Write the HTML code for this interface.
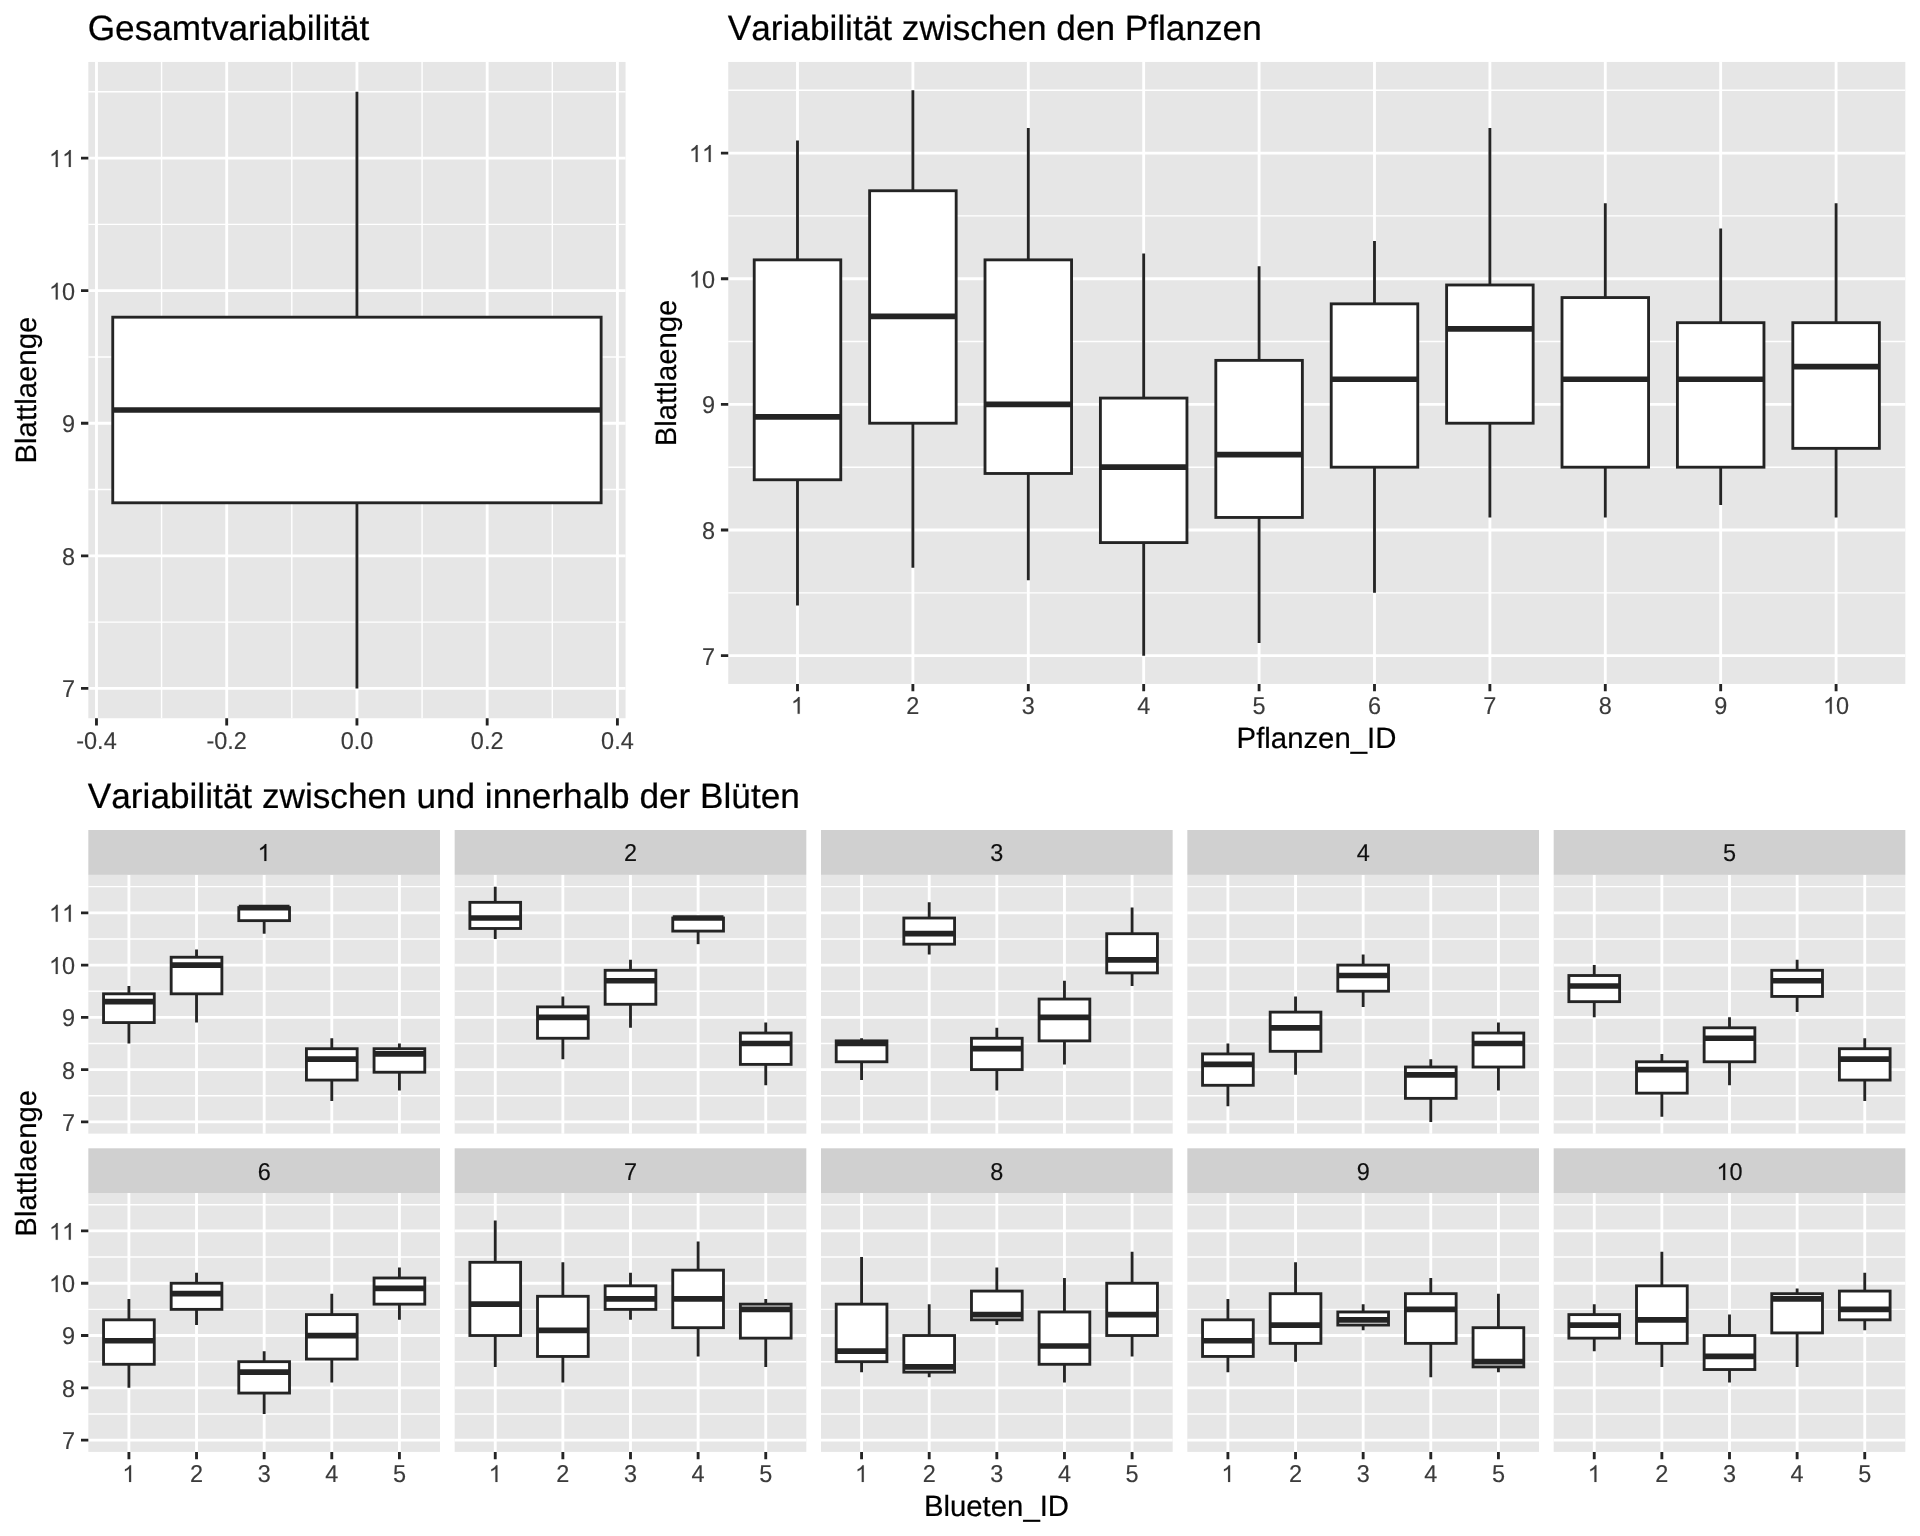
<!DOCTYPE html>
<html lang="de"><head><meta charset="utf-8"><title>Variabilität der Blattlaenge</title>
<style>
html,body{margin:0;padding:0;background:#fff}
svg{display:block;will-change:transform;transform:translateZ(0)}
text{font-family:"Liberation Sans",sans-serif;font-kerning:none;font-variant-ligatures:none;text-rendering:geometricPrecision}
.t{font-size:35.2px;fill:#000;stroke:#000;stroke-width:.22px}
.l{font-size:29.33px;fill:#000;stroke:#000;stroke-width:.2px}
.a{font-size:23.47px;fill:#3B3B3B;stroke:#3B3B3B;stroke-width:.15px}
.s{font-size:23.47px;fill:#101010;stroke:#101010;stroke-width:.15px}
.ap{fill:#3B3B3B;stroke:#3B3B3B;stroke-width:12}
.sp{fill:#101010;stroke:#101010;stroke-width:12}
</style></head><body>
<svg width="1920" height="1536" viewBox="0 0 1920 1536">
<rect width="1920" height="1536" fill="#fff"/>
<rect x="88.33" y="61.95" width="537.22" height="656.3" fill="#E6E6E6"/>
<path d="M88.33 622.13H625.55M88.33 489.54H625.55M88.33 356.95H625.55M88.33 224.37H625.55M88.33 91.78H625.55M161.59 61.95V718.25M291.82 61.95V718.25M422.06 61.95V718.25M552.29 61.95V718.25" stroke="#fff" stroke-width="1.42" fill="none"/>
<path d="M88.33 688.42H625.55M88.33 555.83H625.55M88.33 423.25H625.55M88.33 290.66H625.55M88.33 158.07H625.55M96.47 61.95V718.25M226.7 61.95V718.25M356.94 61.95V718.25M487.18 61.95V718.25M617.41 61.95V718.25" stroke="#fff" stroke-width="2.85" fill="none"/>
<path d="M356.94 91.78V317.18M356.94 502.8V688.42" stroke="#242424" stroke-width="2.85" fill="none"/>
<rect x="112.75" y="317.18" width="488.38" height="185.62" fill="#fff" stroke="#242424" stroke-width="2.85" stroke-linejoin="miter"/>
<path d="M112.75 409.99H601.13" stroke="#242424" stroke-width="5.7" fill="none"/>
<path d="M81 688.42H88.33M81 555.83H88.33M81 423.25H88.33M81 290.66H88.33M81 158.07H88.33" stroke="#242424" stroke-width="2.85" fill="none"/>
<text transform="translate(62.08 697.32) scale(1 1.0405)" class="a">7</text>
<text transform="translate(62.08 564.73) scale(1 1.0405)" class="a">8</text>
<text transform="translate(62.08 432.15) scale(1 1.0405)" class="a">9</text>
<path transform="translate(49.02 299.56) scale(0.01146 -0.01146)" d="M763 0H583V1147Q518 1085 412.5 1023T223 930V1104Q374 1175 487 1276T647 1472H763Z" class="ap"/><text transform="translate(62.08 299.56) scale(1 1.0405)" class="a">0</text>
<path transform="translate(49.02 166.97) scale(0.01146 -0.01146)" d="M763 0H583V1147Q518 1085 412.5 1023T223 930V1104Q374 1175 487 1276T647 1472H763Z" class="ap"/><path transform="translate(62.08 166.97) scale(0.01146 -0.01146)" d="M763 0H583V1147Q518 1085 412.5 1023T223 930V1104Q374 1175 487 1276T647 1472H763Z" class="ap"/>
<path d="M96.47 718.25V725.58M226.7 718.25V725.58M356.94 718.25V725.58M487.18 718.25V725.58M617.41 718.25V725.58" stroke="#242424" stroke-width="2.85" fill="none"/>
<text transform="translate(76.25 748.75) scale(1 1.0405)" class="a">-0.4</text>
<text transform="translate(206.48 748.75) scale(1 1.0405)" class="a">-0.2</text>
<text transform="translate(340.63 748.75) scale(1 1.0405)" class="a">0.0</text>
<text transform="translate(470.86 748.75) scale(1 1.0405)" class="a">0.2</text>
<text transform="translate(601.1 748.75) scale(1 1.0405)" class="a">0.4</text>
<text transform="translate(35.75 390.1) rotate(-90)" text-anchor="middle" class="l">Blattlaenge</text>
<text x="87.73" y="40" class="t">Gesamtvariabilität</text>
<rect x="728.25" y="61.95" width="1177.08" height="622" fill="#E6E6E6"/>
<path d="M728.25 592.85H1905.33M728.25 467.19H1905.33M728.25 341.54H1905.33M728.25 215.88H1905.33M728.25 90.22H1905.33" stroke="#fff" stroke-width="1.42" fill="none"/>
<path d="M728.25 655.68H1905.33M728.25 530.02H1905.33M728.25 404.36H1905.33M728.25 278.71H1905.33M728.25 153.05H1905.33M797.49 61.95V683.95M912.89 61.95V683.95M1028.29 61.95V683.95M1143.69 61.95V683.95M1259.09 61.95V683.95M1374.49 61.95V683.95M1489.89 61.95V683.95M1605.29 61.95V683.95M1720.69 61.95V683.95M1836.09 61.95V683.95" stroke="#fff" stroke-width="2.85" fill="none"/>
<path d="M797.49 140.49V259.86M797.49 479.76V605.41" stroke="#242424" stroke-width="2.85" fill="none"/>
<rect x="754.22" y="259.86" width="86.55" height="219.9" fill="#fff" stroke="#242424" stroke-width="2.85" stroke-linejoin="miter"/>
<path d="M754.22 416.93H840.76" stroke="#242424" stroke-width="5.7" fill="none"/>
<path d="M912.89 90.22V190.75M912.89 423.21V567.72" stroke="#242424" stroke-width="2.85" fill="none"/>
<rect x="869.62" y="190.75" width="86.55" height="232.46" fill="#fff" stroke="#242424" stroke-width="2.85" stroke-linejoin="miter"/>
<path d="M869.62 316.4H956.16" stroke="#242424" stroke-width="5.7" fill="none"/>
<path d="M1028.29 127.92V259.86M1028.29 473.48V580.28" stroke="#242424" stroke-width="2.85" fill="none"/>
<rect x="985.01" y="259.86" width="86.55" height="213.62" fill="#fff" stroke="#242424" stroke-width="2.85" stroke-linejoin="miter"/>
<path d="M985.01 404.36H1071.57" stroke="#242424" stroke-width="5.7" fill="none"/>
<path d="M1143.69 253.58V398.08M1143.69 542.59V655.68" stroke="#242424" stroke-width="2.85" fill="none"/>
<rect x="1100.41" y="398.08" width="86.55" height="144.51" fill="#fff" stroke="#242424" stroke-width="2.85" stroke-linejoin="miter"/>
<path d="M1100.41 467.19H1186.97" stroke="#242424" stroke-width="5.7" fill="none"/>
<path d="M1259.09 266.14V360.38M1259.09 517.46V643.11" stroke="#242424" stroke-width="2.85" fill="none"/>
<rect x="1215.82" y="360.38" width="86.55" height="157.07" fill="#fff" stroke="#242424" stroke-width="2.85" stroke-linejoin="miter"/>
<path d="M1215.82 454.63H1302.37" stroke="#242424" stroke-width="5.7" fill="none"/>
<path d="M1374.49 241.01V303.84M1374.49 467.19V592.85" stroke="#242424" stroke-width="2.85" fill="none"/>
<rect x="1331.22" y="303.84" width="86.55" height="163.35" fill="#fff" stroke="#242424" stroke-width="2.85" stroke-linejoin="miter"/>
<path d="M1331.22 379.23H1417.76" stroke="#242424" stroke-width="5.7" fill="none"/>
<path d="M1489.89 127.92V284.99M1489.89 423.21V517.46" stroke="#242424" stroke-width="2.85" fill="none"/>
<rect x="1446.61" y="284.99" width="86.55" height="138.22" fill="#fff" stroke="#242424" stroke-width="2.85" stroke-linejoin="miter"/>
<path d="M1446.61 328.97H1533.16" stroke="#242424" stroke-width="5.7" fill="none"/>
<path d="M1605.29 203.31V297.56M1605.29 467.19V517.46" stroke="#242424" stroke-width="2.85" fill="none"/>
<rect x="1562.01" y="297.56" width="86.55" height="169.64" fill="#fff" stroke="#242424" stroke-width="2.85" stroke-linejoin="miter"/>
<path d="M1562.01 379.23H1648.57" stroke="#242424" stroke-width="5.7" fill="none"/>
<path d="M1720.69 228.44V322.69M1720.69 467.19V504.89" stroke="#242424" stroke-width="2.85" fill="none"/>
<rect x="1677.41" y="322.69" width="86.55" height="144.51" fill="#fff" stroke="#242424" stroke-width="2.85" stroke-linejoin="miter"/>
<path d="M1677.41 379.23H1763.97" stroke="#242424" stroke-width="5.7" fill="none"/>
<path d="M1836.09 203.31V322.69M1836.09 448.34V517.46" stroke="#242424" stroke-width="2.85" fill="none"/>
<rect x="1792.82" y="322.69" width="86.55" height="125.66" fill="#fff" stroke="#242424" stroke-width="2.85" stroke-linejoin="miter"/>
<path d="M1792.82 366.67H1879.36" stroke="#242424" stroke-width="5.7" fill="none"/>
<path d="M720.92 655.68H728.25M720.92 530.02H728.25M720.92 404.36H728.25M720.92 278.71H728.25M720.92 153.05H728.25" stroke="#242424" stroke-width="2.85" fill="none"/>
<text transform="translate(702 664.58) scale(1 1.0405)" class="a">7</text>
<text transform="translate(702 538.92) scale(1 1.0405)" class="a">8</text>
<text transform="translate(702 413.26) scale(1 1.0405)" class="a">9</text>
<path transform="translate(688.94 287.61) scale(0.01146 -0.01146)" d="M763 0H583V1147Q518 1085 412.5 1023T223 930V1104Q374 1175 487 1276T647 1472H763Z" class="ap"/><text transform="translate(702 287.61) scale(1 1.0405)" class="a">0</text>
<path transform="translate(688.94 161.95) scale(0.01146 -0.01146)" d="M763 0H583V1147Q518 1085 412.5 1023T223 930V1104Q374 1175 487 1276T647 1472H763Z" class="ap"/><path transform="translate(702 161.95) scale(0.01146 -0.01146)" d="M763 0H583V1147Q518 1085 412.5 1023T223 930V1104Q374 1175 487 1276T647 1472H763Z" class="ap"/>
<path d="M797.49 683.95V691.28M912.89 683.95V691.28M1028.29 683.95V691.28M1143.69 683.95V691.28M1259.09 683.95V691.28M1374.49 683.95V691.28M1489.89 683.95V691.28M1605.29 683.95V691.28M1720.69 683.95V691.28M1836.09 683.95V691.28" stroke="#242424" stroke-width="2.85" fill="none"/>
<path transform="translate(790.96 713.85) scale(0.01146 -0.01146)" d="M763 0H583V1147Q518 1085 412.5 1023T223 930V1104Q374 1175 487 1276T647 1472H763Z" class="ap"/>
<text transform="translate(906.36 713.85) scale(1 1.0405)" class="a">2</text>
<text transform="translate(1021.76 713.85) scale(1 1.0405)" class="a">3</text>
<text transform="translate(1137.16 713.85) scale(1 1.0405)" class="a">4</text>
<text transform="translate(1252.56 713.85) scale(1 1.0405)" class="a">5</text>
<text transform="translate(1367.96 713.85) scale(1 1.0405)" class="a">6</text>
<text transform="translate(1483.36 713.85) scale(1 1.0405)" class="a">7</text>
<text transform="translate(1598.76 713.85) scale(1 1.0405)" class="a">8</text>
<text transform="translate(1714.16 713.85) scale(1 1.0405)" class="a">9</text>
<path transform="translate(1823.04 713.85) scale(0.01146 -0.01146)" d="M763 0H583V1147Q518 1085 412.5 1023T223 930V1104Q374 1175 487 1276T647 1472H763Z" class="ap"/><text transform="translate(1836.09 713.85) scale(1 1.0405)" class="a">0</text>
<text transform="translate(675.75 372.95) rotate(-90)" text-anchor="middle" class="l">Blattlaenge</text>
<text x="1316.49" y="747.8" text-anchor="middle" class="l">Pflanzen_ID</text>
<text x="727.75" y="40" class="t">Variabilität zwischen den Pflanzen</text>
<rect x="88.33" y="830" width="351.66" height="44.9" fill="#D0D0D0"/>
<path transform="translate(257.64 860.9) scale(0.01146 -0.01146)" d="M763 0H583V1147Q518 1085 412.5 1023T223 930V1104Q374 1175 487 1276T647 1472H763Z" class="sp"/>
<rect x="88.33" y="874.9" width="351.66" height="258.75" fill="#E6E6E6"/>
<path d="M88.33 1095.75H439.99M88.33 1043.48H439.99M88.33 991.21H439.99M88.33 938.93H439.99M88.33 886.66H439.99" stroke="#fff" stroke-width="1.42" fill="none"/>
<path d="M88.33 1121.89H439.99M88.33 1069.62H439.99M88.33 1017.34H439.99M88.33 965.07H439.99M88.33 912.8H439.99M128.91 874.9V1133.65M196.53 874.9V1133.65M264.16 874.9V1133.65M331.79 874.9V1133.65M399.42 874.9V1133.65" stroke="#fff" stroke-width="2.85" fill="none"/>
<path d="M128.91 985.98V993.82M128.91 1022.57V1043.48" stroke="#242424" stroke-width="2.85" fill="none"/>
<rect x="103.55" y="993.82" width="50.72" height="28.75" fill="#fff" stroke="#242424" stroke-width="2.85" stroke-linejoin="miter"/>
<path d="M103.55 1001.66H154.27" stroke="#242424" stroke-width="5.7" fill="none"/>
<path d="M196.53 949.39V957.23M196.53 993.82V1022.57" stroke="#242424" stroke-width="2.85" fill="none"/>
<rect x="171.17" y="957.23" width="50.72" height="36.59" fill="#fff" stroke="#242424" stroke-width="2.85" stroke-linejoin="miter"/>
<path d="M171.17 965.07H221.89" stroke="#242424" stroke-width="5.7" fill="none"/>
<path d="M264.16 907.57V907.57M264.16 920.64V933.71" stroke="#242424" stroke-width="2.85" fill="none"/>
<rect x="238.8" y="907.57" width="50.72" height="13.07" fill="#fff" stroke="#242424" stroke-width="2.85" stroke-linejoin="miter"/>
<path d="M238.8 907.57H289.52" stroke="#242424" stroke-width="5.7" fill="none"/>
<path d="M331.79 1038.25V1048.71M331.79 1080.07V1100.98" stroke="#242424" stroke-width="2.85" fill="none"/>
<rect x="306.43" y="1048.71" width="50.72" height="31.36" fill="#fff" stroke="#242424" stroke-width="2.85" stroke-linejoin="miter"/>
<path d="M306.43 1059.16H357.15" stroke="#242424" stroke-width="5.7" fill="none"/>
<path d="M399.42 1043.48V1048.71M399.42 1072.23V1090.53" stroke="#242424" stroke-width="2.85" fill="none"/>
<rect x="374.06" y="1048.71" width="50.72" height="23.52" fill="#fff" stroke="#242424" stroke-width="2.85" stroke-linejoin="miter"/>
<path d="M374.06 1053.93H424.78" stroke="#242424" stroke-width="5.7" fill="none"/>
<path d="M81 1121.89H88.33M81 1069.62H88.33M81 1017.34H88.33M81 965.07H88.33M81 912.8H88.33" stroke="#242424" stroke-width="2.85" fill="none"/>
<text transform="translate(62.08 1130.79) scale(1 1.0405)" class="a">7</text>
<text transform="translate(62.08 1078.52) scale(1 1.0405)" class="a">8</text>
<text transform="translate(62.08 1026.24) scale(1 1.0405)" class="a">9</text>
<path transform="translate(49.02 973.97) scale(0.01146 -0.01146)" d="M763 0H583V1147Q518 1085 412.5 1023T223 930V1104Q374 1175 487 1276T647 1472H763Z" class="ap"/><text transform="translate(62.08 973.97) scale(1 1.0405)" class="a">0</text>
<path transform="translate(49.02 921.7) scale(0.01146 -0.01146)" d="M763 0H583V1147Q518 1085 412.5 1023T223 930V1104Q374 1175 487 1276T647 1472H763Z" class="ap"/><path transform="translate(62.08 921.7) scale(0.01146 -0.01146)" d="M763 0H583V1147Q518 1085 412.5 1023T223 930V1104Q374 1175 487 1276T647 1472H763Z" class="ap"/>
<rect x="454.66" y="830" width="351.66" height="44.9" fill="#D0D0D0"/>
<text transform="translate(623.97 860.9) scale(1 1.0405)" class="s">2</text>
<rect x="454.66" y="874.9" width="351.66" height="258.75" fill="#E6E6E6"/>
<path d="M454.66 1095.75H806.33M454.66 1043.48H806.33M454.66 991.21H806.33M454.66 938.93H806.33M454.66 886.66H806.33" stroke="#fff" stroke-width="1.42" fill="none"/>
<path d="M454.66 1121.89H806.33M454.66 1069.62H806.33M454.66 1017.34H806.33M454.66 965.07H806.33M454.66 912.8H806.33M495.24 874.9V1133.65M562.87 874.9V1133.65M630.5 874.9V1133.65M698.12 874.9V1133.65M765.75 874.9V1133.65" stroke="#fff" stroke-width="2.85" fill="none"/>
<path d="M495.24 886.66V902.34M495.24 928.48V938.93" stroke="#242424" stroke-width="2.85" fill="none"/>
<rect x="469.88" y="902.34" width="50.72" height="26.14" fill="#fff" stroke="#242424" stroke-width="2.85" stroke-linejoin="miter"/>
<path d="M469.88 918.02H520.6" stroke="#242424" stroke-width="5.7" fill="none"/>
<path d="M562.87 996.43V1006.89M562.87 1038.25V1059.16" stroke="#242424" stroke-width="2.85" fill="none"/>
<rect x="537.51" y="1006.89" width="50.72" height="31.36" fill="#fff" stroke="#242424" stroke-width="2.85" stroke-linejoin="miter"/>
<path d="M537.51 1017.34H588.23" stroke="#242424" stroke-width="5.7" fill="none"/>
<path d="M630.5 959.84V970.3M630.5 1004.28V1027.8" stroke="#242424" stroke-width="2.85" fill="none"/>
<rect x="605.14" y="970.3" width="50.72" height="33.98" fill="#fff" stroke="#242424" stroke-width="2.85" stroke-linejoin="miter"/>
<path d="M605.14 980.75H655.86" stroke="#242424" stroke-width="5.7" fill="none"/>
<path d="M698.12 918.02V918.02M698.12 931.09V944.16" stroke="#242424" stroke-width="2.85" fill="none"/>
<rect x="672.76" y="918.02" width="50.72" height="13.07" fill="#fff" stroke="#242424" stroke-width="2.85" stroke-linejoin="miter"/>
<path d="M672.76 918.02H723.48" stroke="#242424" stroke-width="5.7" fill="none"/>
<path d="M765.75 1022.57V1033.03M765.75 1064.39V1085.3" stroke="#242424" stroke-width="2.85" fill="none"/>
<rect x="740.39" y="1033.03" width="50.72" height="31.36" fill="#fff" stroke="#242424" stroke-width="2.85" stroke-linejoin="miter"/>
<path d="M740.39 1043.48H791.11" stroke="#242424" stroke-width="5.7" fill="none"/>
<rect x="821" y="830" width="351.66" height="44.9" fill="#D0D0D0"/>
<text transform="translate(990.3 860.9) scale(1 1.0405)" class="s">3</text>
<rect x="821" y="874.9" width="351.66" height="258.75" fill="#E6E6E6"/>
<path d="M821 1095.75H1172.66M821 1043.48H1172.66M821 991.21H1172.66M821 938.93H1172.66M821 886.66H1172.66" stroke="#fff" stroke-width="1.42" fill="none"/>
<path d="M821 1121.89H1172.66M821 1069.62H1172.66M821 1017.34H1172.66M821 965.07H1172.66M821 912.8H1172.66M861.57 874.9V1133.65M929.2 874.9V1133.65M996.83 874.9V1133.65M1064.46 874.9V1133.65M1132.09 874.9V1133.65" stroke="#fff" stroke-width="2.85" fill="none"/>
<path d="M861.57 1038.25V1040.87M861.57 1061.78V1080.07" stroke="#242424" stroke-width="2.85" fill="none"/>
<rect x="836.21" y="1040.87" width="50.72" height="20.91" fill="#fff" stroke="#242424" stroke-width="2.85" stroke-linejoin="miter"/>
<path d="M836.21 1043.48H886.94" stroke="#242424" stroke-width="5.7" fill="none"/>
<path d="M929.2 902.34V918.03M929.2 944.16V954.62" stroke="#242424" stroke-width="2.85" fill="none"/>
<rect x="903.84" y="918.03" width="50.72" height="26.14" fill="#fff" stroke="#242424" stroke-width="2.85" stroke-linejoin="miter"/>
<path d="M903.84 933.71H954.56" stroke="#242424" stroke-width="5.7" fill="none"/>
<path d="M996.83 1027.8V1038.25M996.83 1069.62V1090.53" stroke="#242424" stroke-width="2.85" fill="none"/>
<rect x="971.47" y="1038.25" width="50.72" height="31.36" fill="#fff" stroke="#242424" stroke-width="2.85" stroke-linejoin="miter"/>
<path d="M971.47 1048.71H1022.19" stroke="#242424" stroke-width="5.7" fill="none"/>
<path d="M1064.46 980.75V999.05M1064.46 1040.87V1064.39" stroke="#242424" stroke-width="2.85" fill="none"/>
<rect x="1039.1" y="999.05" width="50.72" height="41.82" fill="#fff" stroke="#242424" stroke-width="2.85" stroke-linejoin="miter"/>
<path d="M1039.1 1017.34H1089.82" stroke="#242424" stroke-width="5.7" fill="none"/>
<path d="M1132.09 907.57V933.71M1132.09 972.91V985.98" stroke="#242424" stroke-width="2.85" fill="none"/>
<rect x="1106.72" y="933.71" width="50.72" height="39.2" fill="#fff" stroke="#242424" stroke-width="2.85" stroke-linejoin="miter"/>
<path d="M1106.72 959.84H1157.45" stroke="#242424" stroke-width="5.7" fill="none"/>
<rect x="1187.33" y="830" width="351.66" height="44.9" fill="#D0D0D0"/>
<text transform="translate(1356.64 860.9) scale(1 1.0405)" class="s">4</text>
<rect x="1187.33" y="874.9" width="351.66" height="258.75" fill="#E6E6E6"/>
<path d="M1187.33 1095.75H1539M1187.33 1043.48H1539M1187.33 991.21H1539M1187.33 938.93H1539M1187.33 886.66H1539" stroke="#fff" stroke-width="1.42" fill="none"/>
<path d="M1187.33 1121.89H1539M1187.33 1069.62H1539M1187.33 1017.34H1539M1187.33 965.07H1539M1187.33 912.8H1539M1227.91 874.9V1133.65M1295.54 874.9V1133.65M1363.16 874.9V1133.65M1430.79 874.9V1133.65M1498.42 874.9V1133.65" stroke="#fff" stroke-width="2.85" fill="none"/>
<path d="M1227.91 1043.48V1053.93M1227.91 1085.3V1106.21" stroke="#242424" stroke-width="2.85" fill="none"/>
<rect x="1202.55" y="1053.93" width="50.72" height="31.36" fill="#fff" stroke="#242424" stroke-width="2.85" stroke-linejoin="miter"/>
<path d="M1202.55 1064.39H1253.27" stroke="#242424" stroke-width="5.7" fill="none"/>
<path d="M1295.54 996.43V1012.12M1295.54 1051.32V1074.84" stroke="#242424" stroke-width="2.85" fill="none"/>
<rect x="1270.18" y="1012.12" width="50.72" height="39.2" fill="#fff" stroke="#242424" stroke-width="2.85" stroke-linejoin="miter"/>
<path d="M1270.18 1027.8H1320.9" stroke="#242424" stroke-width="5.7" fill="none"/>
<path d="M1363.16 954.62V965.07M1363.16 991.21V1006.89" stroke="#242424" stroke-width="2.85" fill="none"/>
<rect x="1337.8" y="965.07" width="50.72" height="26.14" fill="#fff" stroke="#242424" stroke-width="2.85" stroke-linejoin="miter"/>
<path d="M1337.8 975.52H1388.52" stroke="#242424" stroke-width="5.7" fill="none"/>
<path d="M1430.79 1059.16V1067M1430.79 1098.37V1121.89" stroke="#242424" stroke-width="2.85" fill="none"/>
<rect x="1405.43" y="1067" width="50.72" height="31.36" fill="#fff" stroke="#242424" stroke-width="2.85" stroke-linejoin="miter"/>
<path d="M1405.43 1074.84H1456.15" stroke="#242424" stroke-width="5.7" fill="none"/>
<path d="M1498.42 1022.57V1033.03M1498.42 1067V1090.53" stroke="#242424" stroke-width="2.85" fill="none"/>
<rect x="1473.06" y="1033.03" width="50.72" height="33.98" fill="#fff" stroke="#242424" stroke-width="2.85" stroke-linejoin="miter"/>
<path d="M1473.06 1043.48H1523.78" stroke="#242424" stroke-width="5.7" fill="none"/>
<rect x="1553.67" y="830" width="351.66" height="44.9" fill="#D0D0D0"/>
<text transform="translate(1722.97 860.9) scale(1 1.0405)" class="s">5</text>
<rect x="1553.67" y="874.9" width="351.66" height="258.75" fill="#E6E6E6"/>
<path d="M1553.67 1095.75H1905.33M1553.67 1043.48H1905.33M1553.67 991.21H1905.33M1553.67 938.93H1905.33M1553.67 886.66H1905.33" stroke="#fff" stroke-width="1.42" fill="none"/>
<path d="M1553.67 1121.89H1905.33M1553.67 1069.62H1905.33M1553.67 1017.34H1905.33M1553.67 965.07H1905.33M1553.67 912.8H1905.33M1594.24 874.9V1133.65M1661.87 874.9V1133.65M1729.5 874.9V1133.65M1797.13 874.9V1133.65M1864.75 874.9V1133.65" stroke="#fff" stroke-width="2.85" fill="none"/>
<path d="M1594.24 965.07V975.52M1594.24 1001.66V1017.34" stroke="#242424" stroke-width="2.85" fill="none"/>
<rect x="1568.88" y="975.52" width="50.72" height="26.14" fill="#fff" stroke="#242424" stroke-width="2.85" stroke-linejoin="miter"/>
<path d="M1568.88 985.98H1619.6" stroke="#242424" stroke-width="5.7" fill="none"/>
<path d="M1661.87 1053.93V1061.78M1661.87 1093.14V1116.66" stroke="#242424" stroke-width="2.85" fill="none"/>
<rect x="1636.51" y="1061.78" width="50.72" height="31.36" fill="#fff" stroke="#242424" stroke-width="2.85" stroke-linejoin="miter"/>
<path d="M1636.51 1069.62H1687.23" stroke="#242424" stroke-width="5.7" fill="none"/>
<path d="M1729.5 1017.34V1027.8M1729.5 1061.78V1085.3" stroke="#242424" stroke-width="2.85" fill="none"/>
<rect x="1704.14" y="1027.8" width="50.72" height="33.98" fill="#fff" stroke="#242424" stroke-width="2.85" stroke-linejoin="miter"/>
<path d="M1704.14 1038.25H1754.86" stroke="#242424" stroke-width="5.7" fill="none"/>
<path d="M1797.13 959.84V970.3M1797.13 996.43V1012.12" stroke="#242424" stroke-width="2.85" fill="none"/>
<rect x="1771.77" y="970.3" width="50.72" height="26.14" fill="#fff" stroke="#242424" stroke-width="2.85" stroke-linejoin="miter"/>
<path d="M1771.77 980.75H1822.49" stroke="#242424" stroke-width="5.7" fill="none"/>
<path d="M1864.75 1038.25V1048.71M1864.75 1080.07V1100.98" stroke="#242424" stroke-width="2.85" fill="none"/>
<rect x="1839.39" y="1048.71" width="50.72" height="31.36" fill="#fff" stroke="#242424" stroke-width="2.85" stroke-linejoin="miter"/>
<path d="M1839.39 1059.16H1890.11" stroke="#242424" stroke-width="5.7" fill="none"/>
<rect x="88.33" y="1148.3" width="351.66" height="44.7" fill="#D0D0D0"/>
<text transform="translate(257.64 1180) scale(1 1.0405)" class="s">6</text>
<rect x="88.33" y="1193" width="351.66" height="258.9" fill="#E6E6E6"/>
<path d="M88.33 1413.98H439.99M88.33 1361.68H439.99M88.33 1309.37H439.99M88.33 1257.07H439.99M88.33 1204.77H439.99" stroke="#fff" stroke-width="1.42" fill="none"/>
<path d="M88.33 1440.13H439.99M88.33 1387.83H439.99M88.33 1335.53H439.99M88.33 1283.22H439.99M88.33 1230.92H439.99M128.91 1193V1451.9M196.53 1193V1451.9M264.16 1193V1451.9M331.79 1193V1451.9M399.42 1193V1451.9" stroke="#fff" stroke-width="2.85" fill="none"/>
<path d="M128.91 1298.91V1319.83M128.91 1364.29V1387.83" stroke="#242424" stroke-width="2.85" fill="none"/>
<rect x="103.55" y="1319.83" width="50.72" height="44.46" fill="#fff" stroke="#242424" stroke-width="2.85" stroke-linejoin="miter"/>
<path d="M103.55 1340.76H154.27" stroke="#242424" stroke-width="5.7" fill="none"/>
<path d="M196.53 1272.76V1283.22M196.53 1309.37V1325.07" stroke="#242424" stroke-width="2.85" fill="none"/>
<rect x="171.17" y="1283.22" width="50.72" height="26.15" fill="#fff" stroke="#242424" stroke-width="2.85" stroke-linejoin="miter"/>
<path d="M171.17 1293.68H221.89" stroke="#242424" stroke-width="5.7" fill="none"/>
<path d="M264.16 1351.22V1361.68M264.16 1393.06V1413.98" stroke="#242424" stroke-width="2.85" fill="none"/>
<rect x="238.8" y="1361.68" width="50.72" height="31.38" fill="#fff" stroke="#242424" stroke-width="2.85" stroke-linejoin="miter"/>
<path d="M238.8 1372.14H289.52" stroke="#242424" stroke-width="5.7" fill="none"/>
<path d="M331.79 1293.68V1314.6M331.79 1359.06V1382.6" stroke="#242424" stroke-width="2.85" fill="none"/>
<rect x="306.43" y="1314.6" width="50.72" height="44.46" fill="#fff" stroke="#242424" stroke-width="2.85" stroke-linejoin="miter"/>
<path d="M306.43 1335.53H357.15" stroke="#242424" stroke-width="5.7" fill="none"/>
<path d="M399.42 1267.53V1277.99M399.42 1304.14V1319.83" stroke="#242424" stroke-width="2.85" fill="none"/>
<rect x="374.06" y="1277.99" width="50.72" height="26.15" fill="#fff" stroke="#242424" stroke-width="2.85" stroke-linejoin="miter"/>
<path d="M374.06 1288.45H424.78" stroke="#242424" stroke-width="5.7" fill="none"/>
<path d="M81 1440.13H88.33M81 1387.83H88.33M81 1335.53H88.33M81 1283.22H88.33M81 1230.92H88.33" stroke="#242424" stroke-width="2.85" fill="none"/>
<text transform="translate(62.08 1449.03) scale(1 1.0405)" class="a">7</text>
<text transform="translate(62.08 1396.73) scale(1 1.0405)" class="a">8</text>
<text transform="translate(62.08 1344.43) scale(1 1.0405)" class="a">9</text>
<path transform="translate(49.02 1292.12) scale(0.01146 -0.01146)" d="M763 0H583V1147Q518 1085 412.5 1023T223 930V1104Q374 1175 487 1276T647 1472H763Z" class="ap"/><text transform="translate(62.08 1292.12) scale(1 1.0405)" class="a">0</text>
<path transform="translate(49.02 1239.82) scale(0.01146 -0.01146)" d="M763 0H583V1147Q518 1085 412.5 1023T223 930V1104Q374 1175 487 1276T647 1472H763Z" class="ap"/><path transform="translate(62.08 1239.82) scale(0.01146 -0.01146)" d="M763 0H583V1147Q518 1085 412.5 1023T223 930V1104Q374 1175 487 1276T647 1472H763Z" class="ap"/>
<path d="M128.91 1451.9V1459.23M196.53 1451.9V1459.23M264.16 1451.9V1459.23M331.79 1451.9V1459.23M399.42 1451.9V1459.23" stroke="#242424" stroke-width="2.85" fill="none"/>
<path transform="translate(122.38 1482) scale(0.01146 -0.01146)" d="M763 0H583V1147Q518 1085 412.5 1023T223 930V1104Q374 1175 487 1276T647 1472H763Z" class="ap"/>
<text transform="translate(190.01 1482) scale(1 1.0405)" class="a">2</text>
<text transform="translate(257.64 1482) scale(1 1.0405)" class="a">3</text>
<text transform="translate(325.26 1482) scale(1 1.0405)" class="a">4</text>
<text transform="translate(392.89 1482) scale(1 1.0405)" class="a">5</text>
<rect x="454.66" y="1148.3" width="351.66" height="44.7" fill="#D0D0D0"/>
<text transform="translate(623.97 1180) scale(1 1.0405)" class="s">7</text>
<rect x="454.66" y="1193" width="351.66" height="258.9" fill="#E6E6E6"/>
<path d="M454.66 1413.98H806.33M454.66 1361.68H806.33M454.66 1309.37H806.33M454.66 1257.07H806.33M454.66 1204.77H806.33" stroke="#fff" stroke-width="1.42" fill="none"/>
<path d="M454.66 1440.13H806.33M454.66 1387.83H806.33M454.66 1335.53H806.33M454.66 1283.22H806.33M454.66 1230.92H806.33M495.24 1193V1451.9M562.87 1193V1451.9M630.5 1193V1451.9M698.12 1193V1451.9M765.75 1193V1451.9" stroke="#fff" stroke-width="2.85" fill="none"/>
<path d="M495.24 1220.46V1262.3M495.24 1335.53V1366.91" stroke="#242424" stroke-width="2.85" fill="none"/>
<rect x="469.88" y="1262.3" width="50.72" height="73.22" fill="#fff" stroke="#242424" stroke-width="2.85" stroke-linejoin="miter"/>
<path d="M469.88 1304.14H520.6" stroke="#242424" stroke-width="5.7" fill="none"/>
<path d="M562.87 1262.3V1296.3M562.87 1356.45V1382.6" stroke="#242424" stroke-width="2.85" fill="none"/>
<rect x="537.51" y="1296.3" width="50.72" height="60.15" fill="#fff" stroke="#242424" stroke-width="2.85" stroke-linejoin="miter"/>
<path d="M537.51 1330.3H588.23" stroke="#242424" stroke-width="5.7" fill="none"/>
<path d="M630.5 1272.76V1285.84M630.5 1309.37V1319.83" stroke="#242424" stroke-width="2.85" fill="none"/>
<rect x="605.14" y="1285.84" width="50.72" height="23.54" fill="#fff" stroke="#242424" stroke-width="2.85" stroke-linejoin="miter"/>
<path d="M605.14 1298.91H655.86" stroke="#242424" stroke-width="5.7" fill="none"/>
<path d="M698.12 1241.38V1270.15M698.12 1327.68V1356.45" stroke="#242424" stroke-width="2.85" fill="none"/>
<rect x="672.76" y="1270.15" width="50.72" height="57.53" fill="#fff" stroke="#242424" stroke-width="2.85" stroke-linejoin="miter"/>
<path d="M672.76 1298.91H723.48" stroke="#242424" stroke-width="5.7" fill="none"/>
<path d="M765.75 1298.91V1304.14M765.75 1338.14V1366.91" stroke="#242424" stroke-width="2.85" fill="none"/>
<rect x="740.39" y="1304.14" width="50.72" height="34" fill="#fff" stroke="#242424" stroke-width="2.85" stroke-linejoin="miter"/>
<path d="M740.39 1309.37H791.11" stroke="#242424" stroke-width="5.7" fill="none"/>
<path d="M495.24 1451.9V1459.23M562.87 1451.9V1459.23M630.5 1451.9V1459.23M698.12 1451.9V1459.23M765.75 1451.9V1459.23" stroke="#242424" stroke-width="2.85" fill="none"/>
<path transform="translate(488.71 1482) scale(0.01146 -0.01146)" d="M763 0H583V1147Q518 1085 412.5 1023T223 930V1104Q374 1175 487 1276T647 1472H763Z" class="ap"/>
<text transform="translate(556.34 1482) scale(1 1.0405)" class="a">2</text>
<text transform="translate(623.97 1482) scale(1 1.0405)" class="a">3</text>
<text transform="translate(691.6 1482) scale(1 1.0405)" class="a">4</text>
<text transform="translate(759.22 1482) scale(1 1.0405)" class="a">5</text>
<rect x="821" y="1148.3" width="351.66" height="44.7" fill="#D0D0D0"/>
<text transform="translate(990.3 1180) scale(1 1.0405)" class="s">8</text>
<rect x="821" y="1193" width="351.66" height="258.9" fill="#E6E6E6"/>
<path d="M821 1413.98H1172.66M821 1361.68H1172.66M821 1309.37H1172.66M821 1257.07H1172.66M821 1204.77H1172.66" stroke="#fff" stroke-width="1.42" fill="none"/>
<path d="M821 1440.13H1172.66M821 1387.83H1172.66M821 1335.53H1172.66M821 1283.22H1172.66M821 1230.92H1172.66M861.57 1193V1451.9M929.2 1193V1451.9M996.83 1193V1451.9M1064.46 1193V1451.9M1132.09 1193V1451.9" stroke="#fff" stroke-width="2.85" fill="none"/>
<path d="M861.57 1257.07V1304.14M861.57 1361.68V1372.14" stroke="#242424" stroke-width="2.85" fill="none"/>
<rect x="836.21" y="1304.14" width="50.72" height="57.53" fill="#fff" stroke="#242424" stroke-width="2.85" stroke-linejoin="miter"/>
<path d="M836.21 1351.22H886.94" stroke="#242424" stroke-width="5.7" fill="none"/>
<path d="M929.2 1304.14V1335.53M929.2 1372.14V1377.37" stroke="#242424" stroke-width="2.85" fill="none"/>
<rect x="903.84" y="1335.53" width="50.72" height="36.61" fill="#fff" stroke="#242424" stroke-width="2.85" stroke-linejoin="miter"/>
<path d="M903.84 1366.91H954.56" stroke="#242424" stroke-width="5.7" fill="none"/>
<path d="M996.83 1267.53V1291.07M996.83 1319.83V1325.07" stroke="#242424" stroke-width="2.85" fill="none"/>
<rect x="971.47" y="1291.07" width="50.72" height="28.77" fill="#fff" stroke="#242424" stroke-width="2.85" stroke-linejoin="miter"/>
<path d="M971.47 1314.6H1022.19" stroke="#242424" stroke-width="5.7" fill="none"/>
<path d="M1064.46 1277.99V1311.99M1064.46 1364.29V1382.6" stroke="#242424" stroke-width="2.85" fill="none"/>
<rect x="1039.1" y="1311.99" width="50.72" height="52.3" fill="#fff" stroke="#242424" stroke-width="2.85" stroke-linejoin="miter"/>
<path d="M1039.1 1345.99H1089.82" stroke="#242424" stroke-width="5.7" fill="none"/>
<path d="M1132.09 1251.84V1283.22M1132.09 1335.53V1356.45" stroke="#242424" stroke-width="2.85" fill="none"/>
<rect x="1106.72" y="1283.22" width="50.72" height="52.3" fill="#fff" stroke="#242424" stroke-width="2.85" stroke-linejoin="miter"/>
<path d="M1106.72 1314.6H1157.45" stroke="#242424" stroke-width="5.7" fill="none"/>
<path d="M861.57 1451.9V1459.23M929.2 1451.9V1459.23M996.83 1451.9V1459.23M1064.46 1451.9V1459.23M1132.09 1451.9V1459.23" stroke="#242424" stroke-width="2.85" fill="none"/>
<path transform="translate(855.05 1482) scale(0.01146 -0.01146)" d="M763 0H583V1147Q518 1085 412.5 1023T223 930V1104Q374 1175 487 1276T647 1472H763Z" class="ap"/>
<text transform="translate(922.68 1482) scale(1 1.0405)" class="a">2</text>
<text transform="translate(990.3 1482) scale(1 1.0405)" class="a">3</text>
<text transform="translate(1057.93 1482) scale(1 1.0405)" class="a">4</text>
<text transform="translate(1125.56 1482) scale(1 1.0405)" class="a">5</text>
<rect x="1187.33" y="1148.3" width="351.66" height="44.7" fill="#D0D0D0"/>
<text transform="translate(1356.64 1180) scale(1 1.0405)" class="s">9</text>
<rect x="1187.33" y="1193" width="351.66" height="258.9" fill="#E6E6E6"/>
<path d="M1187.33 1413.98H1539M1187.33 1361.68H1539M1187.33 1309.37H1539M1187.33 1257.07H1539M1187.33 1204.77H1539" stroke="#fff" stroke-width="1.42" fill="none"/>
<path d="M1187.33 1440.13H1539M1187.33 1387.83H1539M1187.33 1335.53H1539M1187.33 1283.22H1539M1187.33 1230.92H1539M1227.91 1193V1451.9M1295.54 1193V1451.9M1363.16 1193V1451.9M1430.79 1193V1451.9M1498.42 1193V1451.9" stroke="#fff" stroke-width="2.85" fill="none"/>
<path d="M1227.91 1298.91V1319.83M1227.91 1356.45V1372.14" stroke="#242424" stroke-width="2.85" fill="none"/>
<rect x="1202.55" y="1319.83" width="50.72" height="36.61" fill="#fff" stroke="#242424" stroke-width="2.85" stroke-linejoin="miter"/>
<path d="M1202.55 1340.76H1253.27" stroke="#242424" stroke-width="5.7" fill="none"/>
<path d="M1295.54 1262.3V1293.68M1295.54 1343.37V1361.68" stroke="#242424" stroke-width="2.85" fill="none"/>
<rect x="1270.18" y="1293.68" width="50.72" height="49.69" fill="#fff" stroke="#242424" stroke-width="2.85" stroke-linejoin="miter"/>
<path d="M1270.18 1325.07H1320.9" stroke="#242424" stroke-width="5.7" fill="none"/>
<path d="M1363.16 1304.14V1311.99M1363.16 1325.07V1330.3" stroke="#242424" stroke-width="2.85" fill="none"/>
<rect x="1337.8" y="1311.99" width="50.72" height="13.08" fill="#fff" stroke="#242424" stroke-width="2.85" stroke-linejoin="miter"/>
<path d="M1337.8 1319.83H1388.52" stroke="#242424" stroke-width="5.7" fill="none"/>
<path d="M1430.79 1277.99V1293.68M1430.79 1343.37V1377.37" stroke="#242424" stroke-width="2.85" fill="none"/>
<rect x="1405.43" y="1293.68" width="50.72" height="49.69" fill="#fff" stroke="#242424" stroke-width="2.85" stroke-linejoin="miter"/>
<path d="M1405.43 1309.37H1456.15" stroke="#242424" stroke-width="5.7" fill="none"/>
<path d="M1498.42 1293.68V1327.68M1498.42 1366.91V1372.14" stroke="#242424" stroke-width="2.85" fill="none"/>
<rect x="1473.06" y="1327.68" width="50.72" height="39.23" fill="#fff" stroke="#242424" stroke-width="2.85" stroke-linejoin="miter"/>
<path d="M1473.06 1361.68H1523.78" stroke="#242424" stroke-width="5.7" fill="none"/>
<path d="M1227.91 1451.9V1459.23M1295.54 1451.9V1459.23M1363.16 1451.9V1459.23M1430.79 1451.9V1459.23M1498.42 1451.9V1459.23" stroke="#242424" stroke-width="2.85" fill="none"/>
<path transform="translate(1221.38 1482) scale(0.01146 -0.01146)" d="M763 0H583V1147Q518 1085 412.5 1023T223 930V1104Q374 1175 487 1276T647 1472H763Z" class="ap"/>
<text transform="translate(1289.01 1482) scale(1 1.0405)" class="a">2</text>
<text transform="translate(1356.64 1482) scale(1 1.0405)" class="a">3</text>
<text transform="translate(1424.27 1482) scale(1 1.0405)" class="a">4</text>
<text transform="translate(1491.89 1482) scale(1 1.0405)" class="a">5</text>
<rect x="1553.67" y="1148.3" width="351.66" height="44.7" fill="#D0D0D0"/>
<path transform="translate(1716.45 1180) scale(0.01146 -0.01146)" d="M763 0H583V1147Q518 1085 412.5 1023T223 930V1104Q374 1175 487 1276T647 1472H763Z" class="sp"/><text transform="translate(1729.5 1180) scale(1 1.0405)" class="s">0</text>
<rect x="1553.67" y="1193" width="351.66" height="258.9" fill="#E6E6E6"/>
<path d="M1553.67 1413.98H1905.33M1553.67 1361.68H1905.33M1553.67 1309.37H1905.33M1553.67 1257.07H1905.33M1553.67 1204.77H1905.33" stroke="#fff" stroke-width="1.42" fill="none"/>
<path d="M1553.67 1440.13H1905.33M1553.67 1387.83H1905.33M1553.67 1335.53H1905.33M1553.67 1283.22H1905.33M1553.67 1230.92H1905.33M1594.24 1193V1451.9M1661.87 1193V1451.9M1729.5 1193V1451.9M1797.13 1193V1451.9M1864.75 1193V1451.9" stroke="#fff" stroke-width="2.85" fill="none"/>
<path d="M1594.24 1304.14V1314.6M1594.24 1338.14V1351.22" stroke="#242424" stroke-width="2.85" fill="none"/>
<rect x="1568.88" y="1314.6" width="50.72" height="23.54" fill="#fff" stroke="#242424" stroke-width="2.85" stroke-linejoin="miter"/>
<path d="M1568.88 1325.07H1619.6" stroke="#242424" stroke-width="5.7" fill="none"/>
<path d="M1661.87 1251.84V1285.84M1661.87 1343.37V1366.91" stroke="#242424" stroke-width="2.85" fill="none"/>
<rect x="1636.51" y="1285.84" width="50.72" height="57.53" fill="#fff" stroke="#242424" stroke-width="2.85" stroke-linejoin="miter"/>
<path d="M1636.51 1319.83H1687.23" stroke="#242424" stroke-width="5.7" fill="none"/>
<path d="M1729.5 1314.6V1335.53M1729.5 1369.52V1382.6" stroke="#242424" stroke-width="2.85" fill="none"/>
<rect x="1704.14" y="1335.53" width="50.72" height="34" fill="#fff" stroke="#242424" stroke-width="2.85" stroke-linejoin="miter"/>
<path d="M1704.14 1356.45H1754.86" stroke="#242424" stroke-width="5.7" fill="none"/>
<path d="M1797.13 1288.45V1293.68M1797.13 1332.91V1366.91" stroke="#242424" stroke-width="2.85" fill="none"/>
<rect x="1771.77" y="1293.68" width="50.72" height="39.23" fill="#fff" stroke="#242424" stroke-width="2.85" stroke-linejoin="miter"/>
<path d="M1771.77 1298.91H1822.49" stroke="#242424" stroke-width="5.7" fill="none"/>
<path d="M1864.75 1272.76V1291.07M1864.75 1319.83V1330.3" stroke="#242424" stroke-width="2.85" fill="none"/>
<rect x="1839.39" y="1291.07" width="50.72" height="28.77" fill="#fff" stroke="#242424" stroke-width="2.85" stroke-linejoin="miter"/>
<path d="M1839.39 1309.37H1890.11" stroke="#242424" stroke-width="5.7" fill="none"/>
<path d="M1594.24 1451.9V1459.23M1661.87 1451.9V1459.23M1729.5 1451.9V1459.23M1797.13 1451.9V1459.23M1864.75 1451.9V1459.23" stroke="#242424" stroke-width="2.85" fill="none"/>
<path transform="translate(1587.72 1482) scale(0.01146 -0.01146)" d="M763 0H583V1147Q518 1085 412.5 1023T223 930V1104Q374 1175 487 1276T647 1472H763Z" class="ap"/>
<text transform="translate(1655.34 1482) scale(1 1.0405)" class="a">2</text>
<text transform="translate(1722.97 1482) scale(1 1.0405)" class="a">3</text>
<text transform="translate(1790.6 1482) scale(1 1.0405)" class="a">4</text>
<text transform="translate(1858.23 1482) scale(1 1.0405)" class="a">5</text>
<text transform="translate(35.75 1163.3) rotate(-90)" text-anchor="middle" class="l">Blattlaenge</text>
<text x="996.48" y="1516" text-anchor="middle" class="l">Blueten_ID</text>
<text x="87.83" y="808" class="t">Variabilität zwischen und innerhalb der Blüten</text>
</svg>
</body></html>
